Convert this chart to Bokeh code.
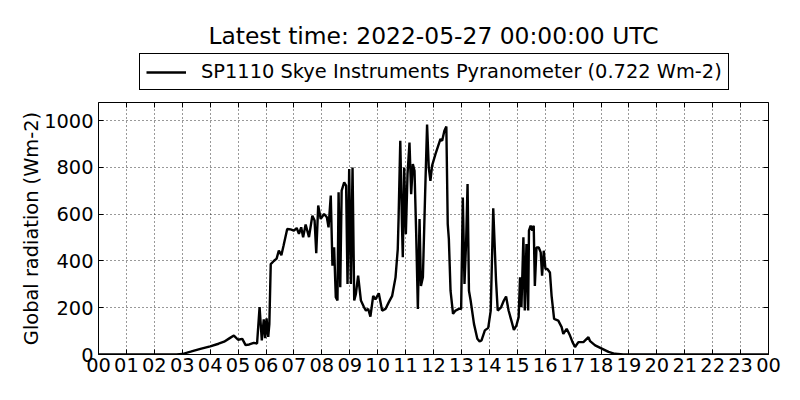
from bokeh.plotting import figure
from bokeh.models import Legend, LegendItem, FixedTicker, Range1d, Label, LinearAxis
from bokeh.layouts import column
from bokeh.embed import file_html
from bokeh.resources import INLINE

hours = [0.0, 2.8, 3.0, 3.3, 3.65, 4.0, 4.3, 4.5, 4.7, 4.85, 5.0, 5.15, 5.27, 5.4, 5.56, 5.68,
         5.77, 5.85, 5.92, 5.97, 6.02, 6.08, 6.12, 6.17, 6.28, 6.38, 6.46, 6.55, 6.63, 6.76,
         6.88, 7.0, 7.1, 7.18, 7.26, 7.33, 7.42, 7.54, 7.66, 7.74, 7.8, 7.87, 7.96, 8.08,
         8.18, 8.24, 8.32, 8.38, 8.44, 8.5, 8.56, 8.6, 8.66, 8.71, 8.8, 8.87, 8.92, 8.98,
         9.04, 9.1, 9.16, 9.22, 9.3, 9.4, 9.5, 9.58, 9.66, 9.74, 9.84, 9.92, 10.04, 10.16,
         10.28, 10.4, 10.52, 10.64, 10.72, 10.75, 10.81, 10.87, 10.9, 10.95, 11.01, 11.07,
         11.14, 11.2, 11.26, 11.32, 11.38, 11.44, 11.5, 11.55, 11.62, 11.7, 11.77, 11.83,
         11.89, 11.95, 12.07, 12.15, 12.25, 12.31, 12.39, 12.46, 12.51, 12.55, 12.61, 12.7,
         12.79, 12.91, 12.99, 13.05, 13.11, 13.17, 13.22, 13.27, 13.33, 13.45, 13.57, 13.65,
         13.72, 13.84, 13.96, 14.05, 14.14, 14.24, 14.3, 14.42, 14.52, 14.6, 14.69, 14.79,
         14.88, 14.97, 15.05, 15.1, 15.15, 15.22, 15.27, 15.33, 15.39, 15.42, 15.48, 15.54,
         15.59, 15.63, 15.69, 15.77, 15.84, 15.89, 15.95, 16.01, 16.08, 16.17, 16.23, 16.32,
         16.47, 16.59, 16.65, 16.77, 16.89, 16.98, 17.07, 17.19, 17.37, 17.55, 17.61, 17.79,
         18.03, 18.27, 18.5, 18.8, 24.0]
radiation = [0, 0, 2, 12, 24, 35, 46, 55, 70, 81, 63, 67, 40, 43, 50, 47,
             203, 60, 150, 70, 155, 75, 130, 387, 400, 410, 445, 425, 466, 537,
             535, 530, 541, 516, 544, 502, 556, 502, 594, 573, 433, 637, 580, 601,
             587, 544, 680, 380, 459, 245, 231, 694, 288, 701, 736, 722, 302, 793,
             302, 800, 231, 259, 337, 231, 205, 188, 195, 162, 251, 236, 262, 188,
             195, 224, 251, 330, 451, 587, 914, 558, 416, 800, 515, 772,
             907, 686, 815, 786, 515, 195, 580, 293, 330, 686, 984, 800,
             743, 808, 857, 886, 922, 914, 957, 975, 558, 494, 273, 174,
             188, 195, 195, 672, 302, 487, 729, 273, 231, 131, 67, 56,
             60, 103, 114, 188, 625, 316, 188, 202, 231, 248, 188, 145,
             105, 124, 160, 330, 202, 501, 188, 473, 188, 530, 551, 530,
             551, 293, 458, 458, 437, 337, 444, 366, 366, 351, 251, 152,
             145, 117, 88, 110, 81, 53, 32, 53, 53, 74, 57, 39,
             25, 11, 3, 0, 0]

tick_hours = list(range(25))
tick_labels = ["%02d" % (h % 24) for h in tick_hours]
y_ticks = [0, 200, 400, 600, 800, 1000]

title_text = "Latest time: 2022-05-27 00:00:00 UTC"
legend_text = "SP1110 Skye Instruments Pyranometer (0.722 Wm-2)"
y_label = "Global radiation (Wm-2)"

FONT = "DejaVu Sans"
W = 784
TOP_H = 96
LEFT = 98   # frame left border (shared by both figures in the column)
RIGHT = 16

# ---- header figure: title + legend ----
top = figure(width=W, height=TOP_H, output_backend="svg", toolbar_location=None,
             x_range=Range1d(0, 1), y_range=Range1d(0, 1),
             x_axis_location=None, y_axis_location=None,
             min_border_left=LEFT, min_border_right=RIGHT, min_border_top=0, min_border_bottom=0)
top.outline_line_color = None
top.xgrid.visible = False
top.ygrid.visible = False
top.background_fill_color = "white"
top.border_fill_color = "white"

top.add_layout(Label(x=335, y=61, x_units="screen", y_units="screen", text=title_text,
                     text_align="center", text_baseline="middle", text_font=FONT,
                     text_font_size="23.4px", text_color="black"))

# legend handle: the series' first point only (a single-point line draws nothing here)
handle = top.line(x=hours[:1], y=radiation[:1], line_color="black", line_width=2.5)
legend = Legend(items=[LegendItem(label=legend_text, renderers=[handle])],
                orientation="horizontal", location=(41, 6),
                label_text_font=FONT, label_text_font_size="19.4px",
                label_text_color="black", label_height=22, glyph_height=22,
                glyph_width=40, border_line_color="black", border_line_width=1,
                border_line_alpha=1.0, background_fill_alpha=1.0,
                padding=6, margin=0, label_standoff=15, spacing=0)
top.add_layout(legend, "center")

# ---- main figure ----
p = figure(width=W, height=288, output_backend="svg", toolbar_location=None,
           x_range=Range1d(0, 24), y_range=Range1d(0, 1078),
           min_border_left=LEFT, min_border_right=RIGHT, min_border_top=6, min_border_bottom=30)

p.line(hours, radiation, line_color="black", line_width=2.4)

p.outline_line_color = "black"
p.outline_line_width = 1
p.outline_line_alpha = 1.0

x_bottom = p.below[0]
y_left = p.left[0]
x_top = LinearAxis()
y_right = LinearAxis()
p.add_layout(y_right, "right")
p.add_layout(x_top, "above")

for ax in (x_bottom, y_left, x_top, y_right):
    ax.axis_line_color = None
    ax.major_tick_out = 0
    ax.major_tick_in = 5
    ax.minor_tick_out = 0
    ax.minor_tick_in = 0
    ax.major_tick_line_color = "black"
    ax.major_label_text_font = FONT
    ax.major_label_text_font_size = "19.4px"
    ax.major_label_text_color = "black"

for ax in (x_bottom, x_top):
    ax.ticker = FixedTicker(ticks=tick_hours)
    ax.major_label_overrides = {h: lab for h, lab in zip(tick_hours, tick_labels)}
for ax in (y_left, y_right):
    ax.ticker = FixedTicker(ticks=y_ticks)

x_bottom.major_label_standoff = 3
y_left.major_label_standoff = 5

for ax in (x_top, y_right):
    ax.major_label_text_font_size = "1px"
    ax.major_label_text_color = None
    ax.major_label_standoff = 0

y_left.axis_label = y_label
y_left.axis_label_text_font = FONT
y_left.axis_label_text_font_size = "19.4px"
y_left.axis_label_text_font_style = "normal"
y_left.axis_label_text_color = "black"
y_left.axis_label_standoff = -2

p.xgrid.ticker = FixedTicker(ticks=tick_hours)
p.ygrid.ticker = FixedTicker(ticks=y_ticks)
for g in (p.xgrid[0], p.ygrid[0]):
    g.grid_line_color = "black"
    g.grid_line_dash = "1 3"
    g.grid_line_width = 1
    g.grid_line_alpha = 0.8

p.background_fill_color = "white"
p.border_fill_color = "white"

layout = column(top, p, spacing=0)
open("out.html", "w").write(file_html(layout, INLINE))
